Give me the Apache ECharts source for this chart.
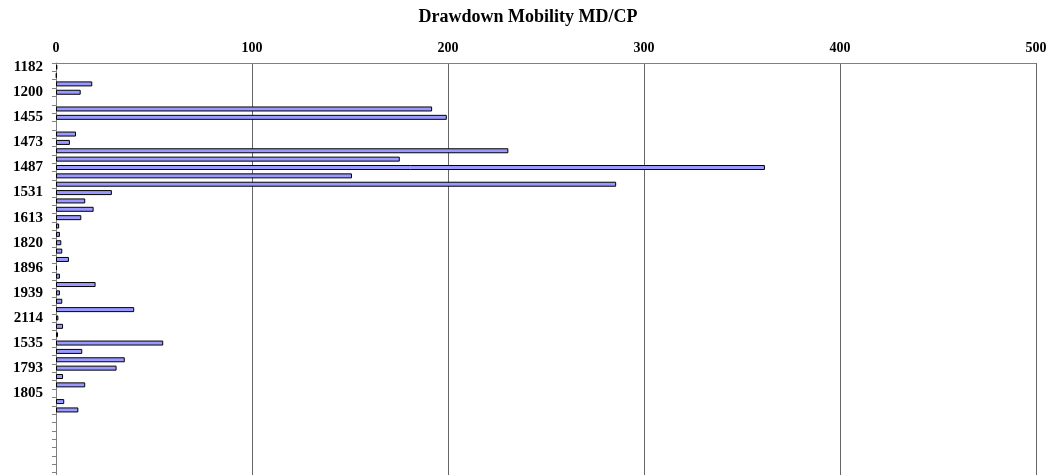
<!DOCTYPE html>
<html>
<head>
<meta charset="utf-8">
<script src="https://cdn.jsdelivr.net/npm/echarts@6/dist/echarts.min.js"></script>
<style>
  html, body { margin: 0; padding: 0; background: #fff; }
  #chart { width: 1056px; height: 475px; }
</style>
</head>
<body>
<div id="chart"></div>
<script>
// Well labels shown on every third row; the rows in between are unnamed
const wellLabels = ['1182', '1200', '1455', '1473', '1487', '1531', '1613',
                    '1820', '1896', '1939', '2114', '1535', '1793', '1805'];
const rowCount = 50;

// Drawdown mobility MD/CP per row (null = no value)
const mobility = [
  0.7, 0.3, 18.5, 12.6, null, 191.9, 199.4, null, 10.2, 7.1,
  230.8, 175.4, 361.7, 151.0, 285.8, 28.5, 14.9, 19.2, 12.9, 1.6,
  2.0, 2.7, 3.2, 6.6, 0.5, 2.0, 20.2, 2.0, 3.2, 39.9,
  1.2, 3.6, 1.0, 54.7, 13.4, 35.1, 30.9, 3.6, 14.9, null,
  4.2, 11.4
];

const xTicks = { min: 0, max: 500, interval: 100 };

const categories = [];
for (let i = 0; i < rowCount; i++) {
  categories.push(i % 3 === 0 && wellLabels[i / 3] !== undefined ? wellLabels[i / 3] : '');
}
const values = [];
for (let i = 0; i < rowCount; i++) {
  const v = mobility[i];
  values.push(v === undefined || v === null ? '-' : v);
}

const serif = '"Liberation Serif", "Times New Roman", serif';
const chart = echarts.init(document.getElementById('chart'), null, { renderer: 'canvas' });
chart.setOption({
  animation: false,
  backgroundColor: '#ffffff',
  title: {
    text: 'Drawdown Mobility MD/CP',
    left: 'center',
    top: 3,
    textStyle: { fontFamily: serif, fontWeight: 'bold', fontSize: 18, color: '#000' }
  },
  // the plot runs a little past the bottom edge of the page
  grid: {
    left: 56, right: 20, top: 63, height: 418,
    containLabel: false, outerBoundsMode: 'none'
  },
  xAxis: {
    type: 'value',
    position: 'top',
    min: xTicks.min,
    max: xTicks.max,
    interval: xTicks.interval,
    axisLine: { show: true, lineStyle: { color: '#808080', width: 1 } },
    axisTick: { show: false },
    axisLabel: {
      margin: 8,
      fontFamily: serif, fontWeight: 'bold', fontSize: 14, color: '#000'
    },
    splitLine: { show: true, lineStyle: { color: '#666', width: 1 } }
  },
  yAxis: {
    type: 'category',
    inverse: true,
    data: categories,
    axisLine: { show: true, lineStyle: { color: '#808080', width: 1 } },
    axisTick: { show: true, length: 4, interval: 0, lineStyle: { color: '#808080' } },
    axisLabel: {
      interval: 0,
      margin: 13,
      fontFamily: serif, fontWeight: 'bold', fontSize: 15, color: '#000'
    },
    splitLine: { show: false }
  },
  series: [{
    type: 'bar',
    data: values,
    barWidth: 5,
    itemStyle: { color: '#9999FF', borderColor: '#000', borderWidth: 1 }
  }]
});
</script>
</body>
</html>
